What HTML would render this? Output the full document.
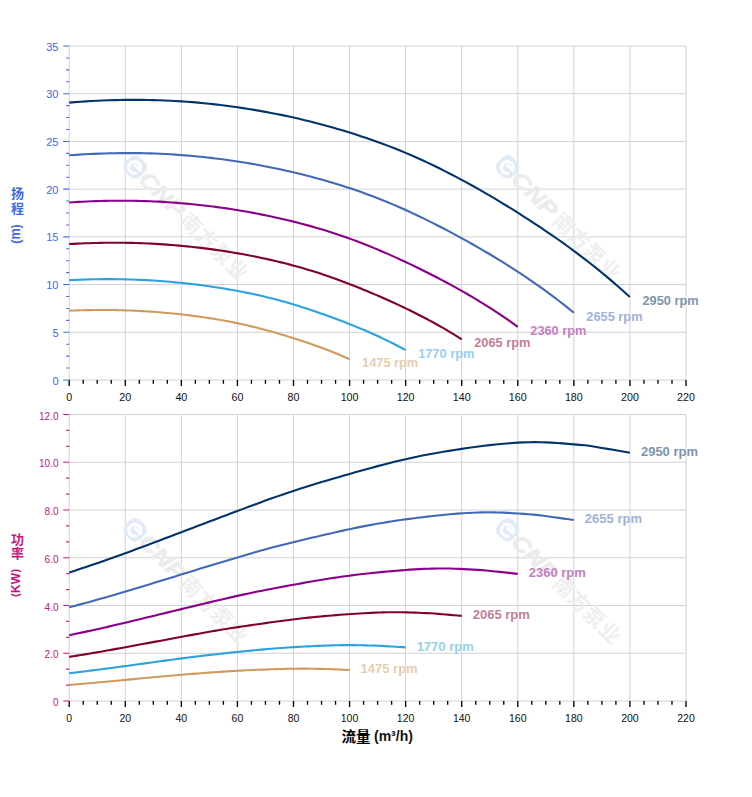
<!DOCTYPE html>
<html><head><meta charset="utf-8"><title>chart</title>
<style>html,body{margin:0;padding:0;background:#fff}svg{display:block}text{font-family:"Liberation Sans","Noto Sans CJK SC",sans-serif}</style></head><body>
<svg width="752" height="797" viewBox="0 0 752 797">
<rect width="752" height="797" fill="#fff"/>
<path d="M69.20 46.00V380.00M125.27 46.00V380.00M181.35 46.00V380.00M237.42 46.00V380.00M293.49 46.00V380.00M349.56 46.00V380.00M405.64 46.00V380.00M461.71 46.00V380.00M517.78 46.00V380.00M573.85 46.00V380.00M629.93 46.00V380.00M686.00 46.00V380.00M69.20 380.00H686.00M69.20 332.29H686.00M69.20 284.57H686.00M69.20 236.86H686.00M69.20 189.14H686.00M69.20 141.43H686.00M69.20 93.71H686.00M69.20 46.00H686.00" stroke="#d2d2d2" stroke-width="1.00" fill="none"/>
<path d="M69.20 380.00v6.00M83.22 380.00v3.80M97.24 380.00v3.80M111.25 380.00v3.80M125.27 380.00v6.00M139.29 380.00v3.80M153.31 380.00v3.80M167.33 380.00v3.80M181.35 380.00v6.00M195.36 380.00v3.80M209.38 380.00v3.80M223.40 380.00v3.80M237.42 380.00v6.00M251.44 380.00v3.80M265.45 380.00v3.80M279.47 380.00v3.80M293.49 380.00v6.00M307.51 380.00v3.80M321.53 380.00v3.80M335.55 380.00v3.80M349.56 380.00v6.00M363.58 380.00v3.80M377.60 380.00v3.80M391.62 380.00v3.80M405.64 380.00v6.00M419.65 380.00v3.80M433.67 380.00v3.80M447.69 380.00v3.80M461.71 380.00v6.00M475.73 380.00v3.80M489.75 380.00v3.80M503.76 380.00v3.80M517.78 380.00v6.00M531.80 380.00v3.80M545.82 380.00v3.80M559.84 380.00v3.80M573.85 380.00v6.00M587.87 380.00v3.80M601.89 380.00v3.80M615.91 380.00v3.80M629.93 380.00v6.00M643.95 380.00v3.80M657.96 380.00v3.80M671.98 380.00v3.80M686.00 380.00v6.00" stroke="#000" stroke-width="1.35" fill="none"/>
<path d="M69.20 380.00h-6.00M69.20 368.07h-3.00M69.20 356.14h-3.00M69.20 344.21h-3.00M69.20 332.29h-6.00M69.20 320.36h-3.00M69.20 308.43h-3.00M69.20 296.50h-3.00M69.20 284.57h-6.00M69.20 272.64h-3.00M69.20 260.71h-3.00M69.20 248.79h-3.00M69.20 236.86h-6.00M69.20 224.93h-3.00M69.20 213.00h-3.00M69.20 201.07h-3.00M69.20 189.14h-6.00M69.20 177.21h-3.00M69.20 165.29h-3.00M69.20 153.36h-3.00M69.20 141.43h-6.00M69.20 129.50h-3.00M69.20 117.57h-3.00M69.20 105.64h-3.00M69.20 93.71h-6.00M69.20 81.79h-3.00M69.20 69.86h-3.00M69.20 57.93h-3.00M69.20 46.00h-6.00" stroke="#4169e1" stroke-width="1.1" fill="none"/>
<text x="69.20" y="401.00" font-size="10.7" text-anchor="middle" fill="#111">0</text>
<text x="125.27" y="401.00" font-size="10.7" text-anchor="middle" fill="#111">20</text>
<text x="181.35" y="401.00" font-size="10.7" text-anchor="middle" fill="#111">40</text>
<text x="237.42" y="401.00" font-size="10.7" text-anchor="middle" fill="#111">60</text>
<text x="293.49" y="401.00" font-size="10.7" text-anchor="middle" fill="#111">80</text>
<text x="349.56" y="401.00" font-size="10.7" text-anchor="middle" fill="#111">100</text>
<text x="405.64" y="401.00" font-size="10.7" text-anchor="middle" fill="#111">120</text>
<text x="461.71" y="401.00" font-size="10.7" text-anchor="middle" fill="#111">140</text>
<text x="517.78" y="401.00" font-size="10.7" text-anchor="middle" fill="#111">160</text>
<text x="573.85" y="401.00" font-size="10.7" text-anchor="middle" fill="#111">180</text>
<text x="629.93" y="401.00" font-size="10.7" text-anchor="middle" fill="#111">200</text>
<text x="686.00" y="401.00" font-size="10.7" text-anchor="middle" fill="#111">220</text>
<text x="58.5" y="384.50" font-size="11" text-anchor="end" fill="#4169e1">0</text>
<text x="58.5" y="336.79" font-size="11" text-anchor="end" fill="#4169e1">5</text>
<text x="58.5" y="289.07" font-size="11" text-anchor="end" fill="#4169e1">10</text>
<text x="58.5" y="241.36" font-size="11" text-anchor="end" fill="#4169e1">15</text>
<text x="58.5" y="193.64" font-size="11" text-anchor="end" fill="#4169e1">20</text>
<text x="58.5" y="145.93" font-size="11" text-anchor="end" fill="#4169e1">25</text>
<text x="58.5" y="98.21" font-size="11" text-anchor="end" fill="#4169e1">30</text>
<text x="58.5" y="50.50" font-size="11" text-anchor="end" fill="#4169e1">35</text>
<path d="M69.20 414.50V701.00M125.27 414.50V701.00M181.35 414.50V701.00M237.42 414.50V701.00M293.49 414.50V701.00M349.56 414.50V701.00M405.64 414.50V701.00M461.71 414.50V701.00M517.78 414.50V701.00M573.85 414.50V701.00M629.93 414.50V701.00M686.00 414.50V701.00M69.20 701.00H686.00M69.20 653.25H686.00M69.20 605.50H686.00M69.20 557.75H686.00M69.20 510.00H686.00M69.20 462.25H686.00M69.20 414.50H686.00" stroke="#d2d2d2" stroke-width="1.00" fill="none"/>
<path d="M69.20 701.00v6.00M83.22 701.00v3.80M97.24 701.00v3.80M111.25 701.00v3.80M125.27 701.00v6.00M139.29 701.00v3.80M153.31 701.00v3.80M167.33 701.00v3.80M181.35 701.00v6.00M195.36 701.00v3.80M209.38 701.00v3.80M223.40 701.00v3.80M237.42 701.00v6.00M251.44 701.00v3.80M265.45 701.00v3.80M279.47 701.00v3.80M293.49 701.00v6.00M307.51 701.00v3.80M321.53 701.00v3.80M335.55 701.00v3.80M349.56 701.00v6.00M363.58 701.00v3.80M377.60 701.00v3.80M391.62 701.00v3.80M405.64 701.00v6.00M419.65 701.00v3.80M433.67 701.00v3.80M447.69 701.00v3.80M461.71 701.00v6.00M475.73 701.00v3.80M489.75 701.00v3.80M503.76 701.00v3.80M517.78 701.00v6.00M531.80 701.00v3.80M545.82 701.00v3.80M559.84 701.00v3.80M573.85 701.00v6.00M587.87 701.00v3.80M601.89 701.00v3.80M615.91 701.00v3.80M629.93 701.00v6.00M643.95 701.00v3.80M657.96 701.00v3.80M671.98 701.00v3.80M686.00 701.00v6.00" stroke="#000" stroke-width="1.35" fill="none"/>
<path d="M69.20 701.00h-6.00M69.20 685.08h-3.00M69.20 669.17h-3.00M69.20 653.25h-6.00M69.20 637.33h-3.00M69.20 621.42h-3.00M69.20 605.50h-6.00M69.20 589.58h-3.00M69.20 573.67h-3.00M69.20 557.75h-6.00M69.20 541.83h-3.00M69.20 525.92h-3.00M69.20 510.00h-6.00M69.20 494.08h-3.00M69.20 478.17h-3.00M69.20 462.25h-6.00M69.20 446.33h-3.00M69.20 430.42h-3.00M69.20 414.50h-6.00" stroke="#c71585" stroke-width="1.1" fill="none"/>
<text x="69.20" y="722.00" font-size="10.5" text-anchor="middle" fill="#111">0</text>
<text x="125.27" y="722.00" font-size="10.5" text-anchor="middle" fill="#111">20</text>
<text x="181.35" y="722.00" font-size="10.5" text-anchor="middle" fill="#111">40</text>
<text x="237.42" y="722.00" font-size="10.5" text-anchor="middle" fill="#111">60</text>
<text x="293.49" y="722.00" font-size="10.5" text-anchor="middle" fill="#111">80</text>
<text x="349.56" y="722.00" font-size="10.5" text-anchor="middle" fill="#111">100</text>
<text x="405.64" y="722.00" font-size="10.5" text-anchor="middle" fill="#111">120</text>
<text x="461.71" y="722.00" font-size="10.5" text-anchor="middle" fill="#111">140</text>
<text x="517.78" y="722.00" font-size="10.5" text-anchor="middle" fill="#111">160</text>
<text x="573.85" y="722.00" font-size="10.5" text-anchor="middle" fill="#111">180</text>
<text x="629.93" y="722.00" font-size="10.5" text-anchor="middle" fill="#111">200</text>
<text x="686.00" y="722.00" font-size="10.5" text-anchor="middle" fill="#111">220</text>
<text x="58.5" y="706.20" font-size="10" text-anchor="end" fill="#c71585">0</text>
<text x="58.5" y="658.45" font-size="10" text-anchor="end" fill="#c71585">2.0</text>
<text x="58.5" y="610.70" font-size="10" text-anchor="end" fill="#c71585">4.0</text>
<text x="58.5" y="562.95" font-size="10" text-anchor="end" fill="#c71585">6.0</text>
<text x="58.5" y="515.20" font-size="10" text-anchor="end" fill="#c71585">8.0</text>
<text x="58.5" y="467.45" font-size="10" text-anchor="end" fill="#c71585">10.0</text>
<text x="58.5" y="419.70" font-size="10" text-anchor="end" fill="#c71585">12.0</text>
<g transform="translate(135.1 167.0) rotate(45)">
<rect x="-10.5" y="-10.5" width="21" height="21" rx="7.5" fill="#e1ebf7"/>
<path d="M5.5 3.2A6 6 0 1 1 5.8 -1.2H-2.5" fill="none" stroke="#fff" stroke-width="3"/>
<text x="11" y="7.6" font-size="21.5" font-weight="bold" font-style="italic" fill="#ececec" stroke="#ececec" stroke-width="0.7" textLength="55" lengthAdjust="spacingAndGlyphs">CNP</text>
<text x="69.5 91.1 112.7 134.3" y="8" font-size="21" font-weight="bold" fill="#efefef">南方泵业</text>
</g>
<g transform="translate(507.7 167.0) rotate(45)">
<rect x="-10.5" y="-10.5" width="21" height="21" rx="7.5" fill="#e1ebf7"/>
<path d="M5.5 3.2A6 6 0 1 1 5.8 -1.2H-2.5" fill="none" stroke="#fff" stroke-width="3"/>
<text x="11" y="7.6" font-size="21.5" font-weight="bold" font-style="italic" fill="#ececec" stroke="#ececec" stroke-width="0.7" textLength="55" lengthAdjust="spacingAndGlyphs">CNP</text>
<text x="69.5 91.1 112.7 134.3" y="8" font-size="21" font-weight="bold" fill="#efefef">南方泵业</text>
</g>
<g transform="translate(135.1 529.8) rotate(45)">
<rect x="-10.5" y="-10.5" width="21" height="21" rx="7.5" fill="#e1ebf7"/>
<path d="M5.5 3.2A6 6 0 1 1 5.8 -1.2H-2.5" fill="none" stroke="#fff" stroke-width="3"/>
<text x="11" y="7.6" font-size="21.5" font-weight="bold" font-style="italic" fill="#ececec" stroke="#ececec" stroke-width="0.7" textLength="55" lengthAdjust="spacingAndGlyphs">CNP</text>
<text x="69.5 91.1 112.7 134.3" y="8" font-size="21" font-weight="bold" fill="#efefef">南方泵业</text>
</g>
<g transform="translate(507.7 529.8) rotate(45)">
<rect x="-10.5" y="-10.5" width="21" height="21" rx="7.5" fill="#e1ebf7"/>
<path d="M5.5 3.2A6 6 0 1 1 5.8 -1.2H-2.5" fill="none" stroke="#fff" stroke-width="3"/>
<text x="11" y="7.6" font-size="21.5" font-weight="bold" font-style="italic" fill="#ececec" stroke="#ececec" stroke-width="0.7" textLength="55" lengthAdjust="spacingAndGlyphs">CNP</text>
<text x="69.5 91.1 112.7 134.3" y="8" font-size="21" font-weight="bold" fill="#efefef">南方泵业</text>
</g>
<path d="M69.20 102.59 L74.81 102.15 L80.41 101.75 L86.02 101.39 L91.63 101.06 L97.24 100.77 L102.84 100.52 L108.45 100.31 L114.06 100.14 L119.67 100.01 L125.27 99.92 L130.88 99.87 L136.49 99.86 L142.09 99.89 L147.70 99.97 L153.31 100.09 L158.92 100.25 L164.52 100.46 L170.13 100.71 L175.74 101.01 L181.35 101.35 L186.95 101.74 L192.56 102.17 L198.17 102.65 L203.77 103.18 L209.38 103.75 L214.99 104.37 L220.60 105.03 L226.20 105.73 L231.81 106.48 L237.42 107.27 L243.03 108.10 L248.63 108.97 L254.24 109.89 L259.85 110.85 L265.45 111.86 L271.06 112.91 L276.67 114.01 L282.28 115.15 L287.88 116.34 L293.49 117.57 L299.10 118.85 L304.71 120.18 L310.31 121.56 L315.92 122.98 L321.53 124.46 L327.13 125.98 L332.74 127.55 L338.35 129.17 L343.96 130.84 L349.56 132.55 L355.17 134.32 L360.78 136.14 L366.39 138.02 L371.99 139.95 L377.60 141.95 L383.21 144.00 L388.81 146.12 L394.42 148.30 L400.03 150.56 L405.64 152.88 L411.24 155.28 L416.85 157.75 L422.46 160.28 L428.07 162.89 L433.67 165.57 L439.28 168.31 L444.89 171.11 L450.49 173.97 L456.10 176.90 L461.71 179.89 L467.32 182.93 L472.92 186.03 L478.53 189.18 L484.14 192.39 L489.75 195.65 L495.35 198.97 L500.96 202.33 L506.57 205.74 L512.17 209.21 L517.78 212.71 L523.39 216.27 L529.00 219.87 L534.60 223.53 L540.21 227.24 L545.82 231.02 L551.43 234.85 L557.03 238.75 L562.64 242.72 L568.25 246.77 L573.85 250.89 L579.46 255.08 L585.07 259.36 L590.68 263.73 L596.28 268.19 L601.89 272.73 L607.50 277.38 L613.11 282.12 L618.71 286.97 L624.32 291.92 L629.93 296.98" stroke="#00356c" stroke-width="2.1" fill="none" stroke-linecap="butt" stroke-linejoin="round"/>
<text x="642.43" y="305.08" font-size="12.8" font-weight="bold" fill="#7d95b0">2950 rpm</text>
<path d="M69.20 572.43 L74.81 570.64 L80.41 568.81 L86.02 566.96 L91.63 565.07 L97.24 563.15 L102.84 561.21 L108.45 559.24 L114.06 557.26 L119.67 555.24 L125.27 553.21 L130.88 551.17 L136.49 549.10 L142.09 547.02 L147.70 544.93 L153.31 542.83 L158.92 540.71 L164.52 538.59 L170.13 536.47 L175.74 534.34 L181.35 532.20 L186.95 530.07 L192.56 527.93 L198.17 525.80 L203.77 523.67 L209.38 521.54 L214.99 519.41 L220.60 517.29 L226.20 515.17 L231.81 513.06 L237.42 510.96 L243.03 508.86 L248.63 506.77 L254.24 504.70 L259.85 502.64 L265.45 500.61 L271.06 498.60 L276.67 496.63 L282.28 494.68 L287.88 492.77 L293.49 490.90 L299.10 489.07 L304.71 487.28 L310.31 485.53 L315.92 483.81 L321.53 482.11 L327.13 480.45 L332.74 478.80 L338.35 477.17 L343.96 475.55 L349.56 473.95 L355.17 472.35 L360.78 470.77 L366.39 469.20 L371.99 467.65 L377.60 466.13 L383.21 464.65 L388.81 463.20 L394.42 461.80 L400.03 460.44 L405.64 459.15 L411.24 457.91 L416.85 456.72 L422.46 455.59 L428.07 454.51 L433.67 453.48 L439.28 452.49 L444.89 451.53 L450.49 450.62 L456.10 449.73 L461.71 448.88 L467.32 448.05 L472.92 447.26 L478.53 446.50 L484.14 445.78 L489.75 445.11 L495.35 444.50 L500.96 443.94 L506.57 443.45 L512.17 443.02 L517.78 442.67 L523.39 442.40 L529.00 442.23 L534.60 442.15 L540.21 442.19 L545.82 442.36 L551.43 442.62 L557.03 442.98 L562.64 443.39 L568.25 443.86 L573.85 444.34 L579.46 444.84 L585.07 445.31 L590.68 446.01 L596.28 446.97 L601.89 447.93 L607.50 448.88 L613.11 449.84 L618.71 450.79 L624.32 451.75 L629.93 452.70" stroke="#00356c" stroke-width="2.1" fill="none" stroke-linecap="butt" stroke-linejoin="round"/>
<text x="640.93" y="456.20" font-size="13" font-weight="bold" fill="#7d95b0">2950 rpm</text>
<path d="M69.20 155.30 L74.25 154.94 L79.29 154.62 L84.34 154.32 L89.39 154.06 L94.43 153.83 L99.48 153.62 L104.53 153.45 L109.57 153.31 L114.62 153.21 L119.67 153.13 L124.71 153.09 L129.76 153.08 L134.81 153.11 L139.85 153.17 L144.90 153.27 L149.94 153.40 L154.99 153.57 L160.04 153.77 L165.08 154.01 L170.13 154.29 L175.18 154.61 L180.22 154.96 L185.27 155.35 L190.32 155.78 L195.36 156.24 L200.41 156.74 L205.46 157.27 L210.50 157.84 L215.55 158.45 L220.60 159.08 L225.64 159.76 L230.69 160.47 L235.74 161.21 L240.78 161.99 L245.83 162.81 L250.88 163.66 L255.92 164.55 L260.97 165.47 L266.02 166.43 L271.06 167.43 L276.11 168.47 L281.15 169.55 L286.20 170.66 L291.25 171.82 L296.29 173.01 L301.34 174.24 L306.39 175.51 L311.43 176.82 L316.48 178.18 L321.53 179.57 L326.57 181.00 L331.62 182.48 L336.67 184.00 L341.71 185.56 L346.76 187.18 L351.81 188.84 L356.85 190.56 L361.90 192.33 L366.95 194.15 L371.99 196.03 L377.04 197.97 L382.09 199.97 L387.13 202.03 L392.18 204.14 L397.23 206.31 L402.27 208.53 L407.32 210.80 L412.37 213.12 L417.41 215.49 L422.46 217.91 L427.50 220.37 L432.55 222.88 L437.60 225.44 L442.64 228.04 L447.69 230.68 L452.74 233.36 L457.78 236.09 L462.83 238.85 L467.88 241.66 L472.92 244.50 L477.97 247.38 L483.02 250.30 L488.06 253.26 L493.11 256.27 L498.16 259.32 L503.20 262.43 L508.25 265.59 L513.30 268.81 L518.34 272.08 L523.39 275.42 L528.44 278.82 L533.48 282.28 L538.53 285.82 L543.58 289.43 L548.62 293.11 L553.67 296.88 L558.71 300.72 L563.76 304.64 L568.81 308.65 L573.85 312.75" stroke="#4169b8" stroke-width="2.1" fill="none" stroke-linecap="butt" stroke-linejoin="round"/>
<text x="586.35" y="320.85" font-size="12.8" font-weight="bold" fill="#9fb2dc">2655 rpm</text>
<path d="M69.20 607.27 L74.25 605.97 L79.29 604.64 L84.34 603.28 L89.39 601.91 L94.43 600.51 L99.48 599.09 L104.53 597.66 L109.57 596.21 L114.62 594.74 L119.67 593.26 L124.71 591.77 L129.76 590.27 L134.81 588.75 L139.85 587.22 L144.90 585.69 L149.94 584.15 L154.99 582.61 L160.04 581.06 L165.08 579.50 L170.13 577.95 L175.18 576.39 L180.22 574.84 L185.27 573.28 L190.32 571.73 L195.36 570.17 L200.41 568.62 L205.46 567.08 L210.50 565.53 L215.55 563.99 L220.60 562.46 L225.64 560.93 L230.69 559.41 L235.74 557.90 L240.78 556.40 L245.83 554.92 L250.88 553.45 L255.92 552.01 L260.97 550.59 L266.02 549.20 L271.06 547.84 L276.11 546.50 L281.15 545.20 L286.20 543.92 L291.25 542.67 L296.29 541.43 L301.34 540.22 L306.39 539.02 L311.43 537.83 L316.48 536.65 L321.53 535.48 L326.57 534.31 L331.62 533.16 L336.67 532.02 L341.71 530.89 L346.76 529.78 L351.81 528.70 L356.85 527.64 L361.90 526.62 L366.95 525.64 L371.99 524.69 L377.04 523.78 L382.09 522.92 L387.13 522.10 L392.18 521.31 L397.23 520.56 L402.27 519.83 L407.32 519.14 L412.37 518.47 L417.41 517.83 L422.46 517.20 L427.50 516.60 L432.55 516.02 L437.60 515.47 L442.64 514.95 L447.69 514.46 L452.74 514.01 L457.78 513.60 L462.83 513.24 L467.88 512.93 L472.92 512.68 L477.97 512.48 L483.02 512.35 L488.06 512.30 L493.11 512.33 L498.16 512.45 L503.20 512.64 L508.25 512.90 L513.30 513.21 L518.34 513.54 L523.39 513.90 L528.44 514.26 L533.48 514.60 L538.53 515.12 L543.58 515.81 L548.62 516.51 L553.67 517.20 L558.71 517.90 L563.76 518.60 L568.81 519.29 L573.85 519.99" stroke="#4169b8" stroke-width="2.1" fill="none" stroke-linecap="butt" stroke-linejoin="round"/>
<text x="584.85" y="523.49" font-size="13" font-weight="bold" fill="#9fb2dc">2655 rpm</text>
<path d="M69.20 202.46 L73.69 202.18 L78.17 201.92 L82.66 201.69 L87.14 201.48 L91.63 201.30 L96.11 201.14 L100.60 201.00 L105.09 200.89 L109.57 200.81 L114.06 200.75 L118.54 200.71 L123.03 200.71 L127.52 200.73 L132.00 200.78 L136.49 200.86 L140.97 200.96 L145.46 201.09 L149.94 201.25 L154.43 201.44 L158.92 201.66 L163.40 201.91 L167.89 202.19 L172.37 202.50 L176.86 202.84 L181.35 203.20 L185.83 203.59 L190.32 204.02 L194.80 204.47 L199.29 204.94 L203.77 205.45 L208.26 205.98 L212.75 206.54 L217.23 207.13 L221.72 207.75 L226.20 208.39 L230.69 209.06 L235.18 209.76 L239.66 210.50 L244.15 211.26 L248.63 212.05 L253.12 212.87 L257.60 213.72 L262.09 214.60 L266.58 215.51 L271.06 216.45 L275.55 217.43 L280.03 218.43 L284.52 219.47 L289.01 220.53 L293.49 221.63 L297.98 222.77 L302.46 223.93 L306.95 225.13 L311.43 226.37 L315.92 227.65 L320.41 228.96 L324.89 230.32 L329.38 231.71 L333.86 233.16 L338.35 234.64 L342.83 236.18 L347.32 237.76 L351.81 239.38 L356.29 241.05 L360.78 242.76 L365.26 244.52 L369.75 246.31 L374.24 248.14 L378.72 250.02 L383.21 251.93 L387.69 253.87 L392.18 255.86 L396.66 257.88 L401.15 259.93 L405.64 262.02 L410.12 264.14 L414.61 266.29 L419.09 268.48 L423.58 270.69 L428.07 272.94 L432.55 275.21 L437.04 277.52 L441.52 279.86 L446.01 282.24 L450.49 284.65 L454.98 287.11 L459.47 289.60 L463.95 292.14 L468.44 294.73 L472.92 297.37 L477.41 300.05 L481.90 302.79 L486.38 305.59 L490.87 308.44 L495.35 311.35 L499.84 314.32 L504.32 317.36 L508.81 320.46 L513.30 323.63 L517.78 326.87" stroke="#8b008b" stroke-width="2.1" fill="none" stroke-linecap="butt" stroke-linejoin="round"/>
<text x="530.28" y="334.97" font-size="12.8" font-weight="bold" fill="#c47fc4">2360 rpm</text>
<path d="M69.20 635.17 L73.69 634.26 L78.17 633.32 L82.66 632.37 L87.14 631.40 L91.63 630.42 L96.11 629.43 L100.60 628.42 L105.09 627.40 L109.57 626.37 L114.06 625.33 L118.54 624.28 L123.03 623.23 L127.52 622.16 L132.00 621.09 L136.49 620.02 L140.97 618.93 L145.46 617.85 L149.94 616.76 L154.43 615.67 L158.92 614.58 L163.40 613.48 L167.89 612.39 L172.37 611.30 L176.86 610.21 L181.35 609.12 L185.83 608.03 L190.32 606.94 L194.80 605.86 L199.29 604.77 L203.77 603.70 L208.26 602.62 L212.75 601.55 L217.23 600.49 L221.72 599.44 L226.20 598.40 L230.69 597.37 L235.18 596.36 L239.66 595.36 L244.15 594.39 L248.63 593.43 L253.12 592.49 L257.60 591.58 L262.09 590.68 L266.58 589.80 L271.06 588.93 L275.55 588.08 L280.03 587.23 L284.52 586.40 L289.01 585.57 L293.49 584.75 L297.98 583.93 L302.46 583.12 L306.95 582.32 L311.43 581.53 L315.92 580.75 L320.41 579.99 L324.89 579.25 L329.38 578.53 L333.86 577.84 L338.35 577.17 L342.83 576.54 L347.32 575.93 L351.81 575.35 L356.29 574.80 L360.78 574.27 L365.26 573.76 L369.75 573.27 L374.24 572.80 L378.72 572.35 L383.21 571.91 L387.69 571.49 L392.18 571.08 L396.66 570.70 L401.15 570.33 L405.64 569.99 L410.12 569.67 L414.61 569.39 L419.09 569.13 L423.58 568.92 L428.07 568.74 L432.55 568.60 L437.04 568.51 L441.52 568.47 L446.01 568.49 L450.49 568.57 L454.98 568.71 L459.47 568.89 L463.95 569.11 L468.44 569.34 L472.92 569.59 L477.41 569.84 L481.90 570.09 L486.38 570.45 L490.87 570.94 L495.35 571.43 L499.84 571.91 L504.32 572.40 L508.81 572.89 L513.30 573.38 L517.78 573.87" stroke="#8b008b" stroke-width="2.1" fill="none" stroke-linecap="butt" stroke-linejoin="round"/>
<text x="528.78" y="577.37" font-size="13" font-weight="bold" fill="#c47fc4">2360 rpm</text>
<path d="M69.20 244.07 L73.13 243.85 L77.05 243.66 L80.98 243.48 L84.90 243.32 L88.83 243.18 L92.75 243.06 L96.68 242.95 L100.60 242.87 L104.53 242.80 L108.45 242.76 L112.38 242.73 L116.30 242.73 L120.23 242.75 L124.15 242.78 L128.08 242.84 L132.00 242.92 L135.93 243.02 L139.85 243.15 L143.78 243.29 L147.70 243.46 L151.63 243.65 L155.55 243.86 L159.48 244.10 L163.40 244.36 L167.33 244.64 L171.25 244.94 L175.18 245.26 L179.10 245.61 L183.03 245.97 L186.95 246.36 L190.88 246.77 L194.80 247.20 L198.73 247.65 L202.65 248.12 L206.58 248.61 L210.50 249.13 L214.43 249.66 L218.35 250.22 L222.28 250.81 L226.20 251.41 L230.13 252.04 L234.05 252.69 L237.98 253.36 L241.90 254.06 L245.83 254.78 L249.75 255.53 L253.68 256.30 L257.60 257.09 L261.53 257.91 L265.45 258.75 L269.38 259.62 L273.30 260.51 L277.23 261.43 L281.15 262.38 L285.08 263.35 L289.01 264.36 L292.93 265.40 L296.86 266.47 L300.78 267.57 L304.71 268.71 L308.63 269.89 L312.56 271.10 L316.48 272.34 L320.41 273.62 L324.33 274.93 L328.26 276.27 L332.18 277.64 L336.11 279.05 L340.03 280.48 L343.96 281.94 L347.88 283.44 L351.81 284.95 L355.73 286.50 L359.66 288.07 L363.58 289.67 L367.51 291.29 L371.43 292.94 L375.36 294.61 L379.28 296.31 L383.21 298.03 L387.13 299.77 L391.06 301.54 L394.98 303.33 L398.91 305.15 L402.83 307.00 L406.76 308.88 L410.68 310.79 L414.61 312.73 L418.53 314.72 L422.46 316.73 L426.38 318.79 L430.31 320.89 L434.23 323.03 L438.16 325.21 L442.08 327.44 L446.01 329.71 L449.93 332.04 L453.86 334.41 L457.78 336.84 L461.71 339.32" stroke="#80002f" stroke-width="2.1" fill="none" stroke-linecap="butt" stroke-linejoin="round"/>
<text x="474.21" y="347.42" font-size="12.8" font-weight="bold" fill="#c07f96">2065 rpm</text>
<path d="M69.20 656.90 L73.13 656.29 L77.05 655.66 L80.98 655.02 L84.90 654.38 L88.83 653.72 L92.75 653.05 L96.68 652.38 L100.60 651.70 L104.53 651.01 L108.45 650.31 L112.38 649.61 L116.30 648.90 L120.23 648.19 L124.15 647.47 L128.08 646.75 L132.00 646.02 L135.93 645.29 L139.85 644.57 L143.78 643.83 L147.70 643.10 L151.63 642.37 L155.55 641.64 L159.48 640.91 L163.40 640.18 L167.33 639.44 L171.25 638.72 L175.18 637.99 L179.10 637.26 L183.03 636.54 L186.95 635.81 L190.88 635.10 L194.80 634.38 L198.73 633.67 L202.65 632.96 L206.58 632.27 L210.50 631.58 L214.43 630.90 L218.35 630.23 L222.28 629.58 L226.20 628.94 L230.13 628.31 L234.05 627.69 L237.98 627.09 L241.90 626.50 L245.83 625.92 L249.75 625.35 L253.68 624.79 L257.60 624.23 L261.53 623.67 L265.45 623.12 L269.38 622.57 L273.30 622.03 L277.23 621.49 L281.15 620.96 L285.08 620.44 L289.01 619.93 L292.93 619.43 L296.86 618.95 L300.78 618.49 L304.71 618.04 L308.63 617.62 L312.56 617.21 L316.48 616.83 L320.41 616.45 L324.33 616.10 L328.26 615.76 L332.18 615.43 L336.11 615.12 L340.03 614.82 L343.96 614.52 L347.88 614.24 L351.81 613.97 L355.73 613.71 L359.66 613.46 L363.58 613.23 L367.51 613.02 L371.43 612.83 L375.36 612.66 L379.28 612.51 L383.21 612.39 L387.13 612.30 L391.06 612.24 L394.98 612.22 L398.91 612.23 L402.83 612.29 L406.76 612.38 L410.68 612.50 L414.61 612.64 L418.53 612.80 L422.46 612.97 L426.38 613.14 L430.31 613.30 L434.23 613.54 L438.16 613.87 L442.08 614.20 L446.01 614.52 L449.93 614.85 L453.86 615.18 L457.78 615.51 L461.71 615.83" stroke="#80002f" stroke-width="2.1" fill="none" stroke-linecap="butt" stroke-linejoin="round"/>
<text x="472.71" y="619.33" font-size="13" font-weight="bold" fill="#c07f96">2065 rpm</text>
<path d="M69.20 280.13 L72.56 279.97 L75.93 279.83 L79.29 279.70 L82.66 279.58 L86.02 279.48 L89.39 279.39 L92.75 279.31 L96.11 279.25 L99.48 279.20 L102.84 279.17 L106.21 279.15 L109.57 279.15 L112.94 279.16 L116.30 279.19 L119.67 279.23 L123.03 279.29 L126.39 279.36 L129.76 279.45 L133.12 279.56 L136.49 279.69 L139.85 279.83 L143.22 279.98 L146.58 280.16 L149.94 280.34 L153.31 280.55 L156.67 280.77 L160.04 281.01 L163.40 281.26 L166.77 281.53 L170.13 281.82 L173.50 282.11 L176.86 282.43 L180.22 282.76 L183.59 283.11 L186.95 283.47 L190.32 283.85 L193.68 284.24 L197.05 284.65 L200.41 285.08 L203.77 285.53 L207.14 285.99 L210.50 286.47 L213.87 286.96 L217.23 287.47 L220.60 288.00 L223.96 288.55 L227.33 289.12 L230.69 289.70 L234.05 290.30 L237.42 290.92 L240.78 291.56 L244.15 292.21 L247.51 292.89 L250.88 293.58 L254.24 294.30 L257.60 295.04 L260.97 295.80 L264.33 296.59 L267.70 297.40 L271.06 298.24 L274.43 299.10 L277.79 299.99 L281.15 300.90 L284.52 301.84 L287.88 302.80 L291.25 303.79 L294.61 304.80 L297.98 305.83 L301.34 306.88 L304.71 307.96 L308.07 309.05 L311.43 310.17 L314.80 311.31 L318.16 312.46 L321.53 313.64 L324.89 314.83 L328.26 316.04 L331.62 317.27 L334.98 318.51 L338.35 319.78 L341.71 321.06 L345.08 322.35 L348.44 323.67 L351.81 325.01 L355.17 326.37 L358.54 327.75 L361.90 329.15 L365.26 330.58 L368.63 332.04 L371.99 333.52 L375.36 335.03 L378.72 336.57 L382.09 338.14 L385.45 339.75 L388.81 341.38 L392.18 343.06 L395.54 344.76 L398.91 346.51 L402.27 348.29 L405.64 350.11" stroke="#2ba3de" stroke-width="2.1" fill="none" stroke-linecap="butt" stroke-linejoin="round"/>
<text x="418.14" y="358.21" font-size="12.8" font-weight="bold" fill="#95d0ee">1770 rpm</text>
<path d="M69.20 673.23 L72.56 672.84 L75.93 672.45 L79.29 672.05 L82.66 671.64 L86.02 671.23 L89.39 670.81 L92.75 670.38 L96.11 669.95 L99.48 669.52 L102.84 669.08 L106.21 668.64 L109.57 668.19 L112.94 667.74 L116.30 667.29 L119.67 666.83 L123.03 666.38 L126.39 665.92 L129.76 665.46 L133.12 665.00 L136.49 664.54 L139.85 664.08 L143.22 663.62 L146.58 663.16 L149.94 662.70 L153.31 662.24 L156.67 661.78 L160.04 661.32 L163.40 660.86 L166.77 660.41 L170.13 659.95 L173.50 659.50 L176.86 659.05 L180.22 658.60 L183.59 658.16 L186.95 657.72 L190.32 657.28 L193.68 656.86 L197.05 656.43 L200.41 656.02 L203.77 655.62 L207.14 655.22 L210.50 654.84 L213.87 654.46 L217.23 654.09 L220.60 653.72 L223.96 653.36 L227.33 653.00 L230.69 652.65 L234.05 652.30 L237.42 651.96 L240.78 651.61 L244.15 651.27 L247.51 650.93 L250.88 650.60 L254.24 650.27 L257.60 649.95 L260.97 649.64 L264.33 649.33 L267.70 649.04 L271.06 648.76 L274.43 648.49 L277.79 648.24 L281.15 647.99 L284.52 647.76 L287.88 647.54 L291.25 647.32 L294.61 647.12 L297.98 646.92 L301.34 646.73 L304.71 646.54 L308.07 646.36 L311.43 646.19 L314.80 646.03 L318.16 645.87 L321.53 645.73 L324.89 645.60 L328.26 645.48 L331.62 645.37 L334.98 645.28 L338.35 645.20 L341.71 645.14 L345.08 645.11 L348.44 645.09 L351.81 645.10 L355.17 645.13 L358.54 645.19 L361.90 645.27 L365.26 645.36 L368.63 645.46 L371.99 645.56 L375.36 645.67 L378.72 645.77 L382.09 645.92 L385.45 646.13 L388.81 646.34 L392.18 646.54 L395.54 646.75 L398.91 646.95 L402.27 647.16 L405.64 647.37" stroke="#2ba3de" stroke-width="2.1" fill="none" stroke-linecap="butt" stroke-linejoin="round"/>
<text x="416.64" y="650.87" font-size="13" font-weight="bold" fill="#95d0ee">1770 rpm</text>
<path d="M69.20 310.65 L72.00 310.54 L74.81 310.44 L77.61 310.35 L80.41 310.27 L83.22 310.19 L86.02 310.13 L88.83 310.08 L91.63 310.04 L94.43 310.00 L97.24 309.98 L100.04 309.97 L102.84 309.96 L105.65 309.97 L108.45 309.99 L111.25 310.02 L114.06 310.06 L116.86 310.11 L119.67 310.18 L122.47 310.25 L125.27 310.34 L128.08 310.43 L130.88 310.54 L133.68 310.66 L136.49 310.80 L139.29 310.94 L142.09 311.09 L144.90 311.26 L147.70 311.43 L150.51 311.62 L153.31 311.82 L156.11 312.02 L158.92 312.24 L161.72 312.47 L164.52 312.71 L167.33 312.96 L170.13 313.23 L172.93 313.50 L175.74 313.79 L178.54 314.08 L181.35 314.39 L184.15 314.71 L186.95 315.05 L189.76 315.39 L192.56 315.75 L195.36 316.11 L198.17 316.49 L200.97 316.89 L203.77 317.29 L206.58 317.71 L209.38 318.14 L212.19 318.58 L214.99 319.04 L217.79 319.51 L220.60 319.99 L223.40 320.49 L226.20 321.00 L229.01 321.53 L231.81 322.08 L234.61 322.64 L237.42 323.22 L240.22 323.82 L243.03 324.44 L245.83 325.07 L248.63 325.72 L251.44 326.39 L254.24 327.08 L257.04 327.78 L259.85 328.49 L262.65 329.23 L265.45 329.97 L268.26 330.73 L271.06 331.51 L273.87 332.30 L276.67 333.10 L279.47 333.91 L282.28 334.74 L285.08 335.58 L287.88 336.44 L290.69 337.30 L293.49 338.18 L296.29 339.07 L299.10 339.97 L301.90 340.88 L304.71 341.81 L307.51 342.75 L310.31 343.71 L313.12 344.69 L315.92 345.68 L318.72 346.69 L321.53 347.72 L324.33 348.77 L327.13 349.84 L329.94 350.93 L332.74 352.05 L335.55 353.18 L338.35 354.34 L341.15 355.53 L343.96 356.74 L346.76 357.98 L349.56 359.24" stroke="#d09a5c" stroke-width="2.1" fill="none" stroke-linecap="butt" stroke-linejoin="round"/>
<text x="362.06" y="367.34" font-size="12.8" font-weight="bold" fill="#e8ccad">1475 rpm</text>
<path d="M69.20 684.93 L72.00 684.71 L74.81 684.48 L77.61 684.24 L80.41 684.01 L83.22 683.77 L86.02 683.53 L88.83 683.28 L91.63 683.03 L94.43 682.78 L97.24 682.53 L100.04 682.27 L102.84 682.01 L105.65 681.75 L108.45 681.49 L111.25 681.23 L114.06 680.96 L116.86 680.70 L119.67 680.43 L122.47 680.17 L125.27 679.90 L128.08 679.63 L130.88 679.37 L133.68 679.10 L136.49 678.83 L139.29 678.57 L142.09 678.30 L144.90 678.04 L147.70 677.77 L150.51 677.51 L153.31 677.24 L156.11 676.98 L158.92 676.72 L161.72 676.46 L164.52 676.21 L167.33 675.95 L170.13 675.70 L172.93 675.45 L175.74 675.21 L178.54 674.97 L181.35 674.74 L184.15 674.51 L186.95 674.29 L189.76 674.07 L192.56 673.85 L195.36 673.64 L198.17 673.43 L200.97 673.22 L203.77 673.02 L206.58 672.82 L209.38 672.62 L212.19 672.42 L214.99 672.22 L217.79 672.02 L220.60 671.83 L223.40 671.64 L226.20 671.46 L229.01 671.28 L231.81 671.10 L234.61 670.93 L237.42 670.77 L240.22 670.61 L243.03 670.47 L245.83 670.32 L248.63 670.19 L251.44 670.06 L254.24 669.94 L257.04 669.82 L259.85 669.70 L262.65 669.59 L265.45 669.49 L268.26 669.38 L271.06 669.28 L273.87 669.19 L276.67 669.10 L279.47 669.01 L282.28 668.94 L285.08 668.87 L287.88 668.81 L290.69 668.75 L293.49 668.71 L296.29 668.68 L299.10 668.65 L301.90 668.64 L304.71 668.65 L307.51 668.67 L310.31 668.70 L313.12 668.75 L315.92 668.80 L318.72 668.86 L321.53 668.92 L324.33 668.98 L327.13 669.04 L329.94 669.13 L332.74 669.25 L335.55 669.37 L338.35 669.49 L341.15 669.60 L343.96 669.72 L346.76 669.84 L349.56 669.96" stroke="#d09a5c" stroke-width="2.1" fill="none" stroke-linecap="butt" stroke-linejoin="round"/>
<text x="360.56" y="673.46" font-size="13" font-weight="bold" fill="#e8ccad">1475 rpm</text>
<text x="11" y="198.2" font-size="13" font-weight="bold" fill="#4169e1">扬</text>
<text x="11" y="213.2" font-size="13" font-weight="bold" fill="#4169e1">程</text>
<text transform="translate(20.4 234) rotate(-90)" font-size="13" font-weight="bold" text-anchor="middle" fill="#4169e1"><tspan font-size="12.5">(</tspan><tspan font-size="14.5" textLength="11.2" lengthAdjust="spacingAndGlyphs">m</tspan><tspan font-size="12.5">)</tspan></text>
<text x="11" y="543.5" font-size="13" font-weight="bold" fill="#c71585">功</text>
<text x="11" y="558.2" font-size="13" font-weight="bold" fill="#c71585">率</text>
<text transform="translate(19.8 582.8) rotate(-90)" font-size="12" font-weight="bold" text-anchor="middle" letter-spacing="0.3" fill="#c71585"><tspan font-size="11" dy="-0.7">(</tspan><tspan dy="0.7">KW</tspan><tspan font-size="11" dy="-0.7">)</tspan></text>
<text x="341.6 356" y="741.8" font-size="14.5" font-weight="bold" fill="#000">流量</text>
<text x="374" y="740.7" font-size="14" font-weight="bold" fill="#111">(m³/h)</text>
</svg></body></html>
